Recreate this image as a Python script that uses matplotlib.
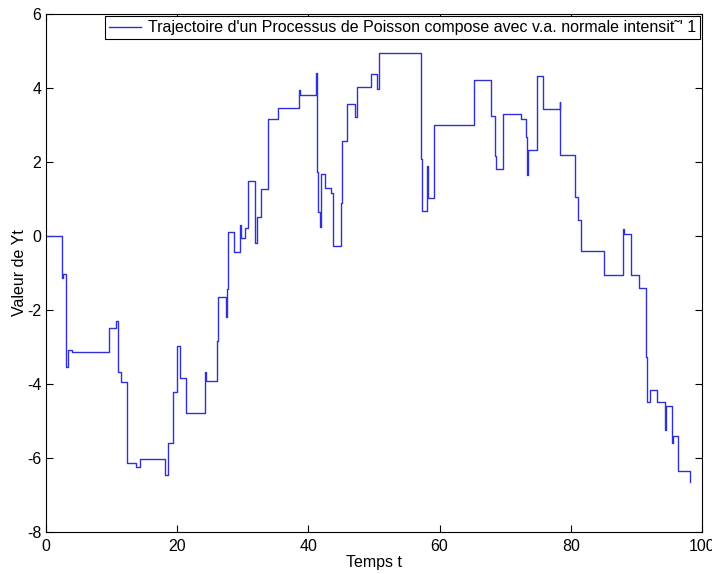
import matplotlib
matplotlib.use("Agg")
import matplotlib.pyplot as plt

plt.rcParams["font.family"] = ["Liberation Sans", "DejaVu Sans"]
plt.rcParams["axes.unicode_minus"] = False

# jump times and the value held from each jump until the next one
jump_times = [
    0.0, 2.5, 2.65, 3.05, 3.4, 4.0, 9.6, 10.6, 11.0, 11.4, 12.3, 13.7, 14.3,
    18.2, 18.6, 19.4, 19.9, 20.5, 21.3, 24.3, 24.4, 26.1, 26.2, 27.5, 27.55,
    27.8, 28.6, 28.7, 29.6, 29.7, 30.4, 30.8, 31.8, 32.2, 32.7, 33.8, 35.4,
    38.6, 38.7, 41.2, 41.3, 41.5, 41.8, 41.9, 42.5, 43.5, 43.8, 44.9, 45.1,
    45.9, 47.1, 47.4, 49.6, 50.4, 50.8, 57.2, 57.25, 57.35, 58.1, 58.3, 59.1,
    65.2, 65.3, 67.8, 68.4, 68.5, 68.6, 69.6, 72.4, 73.1, 73.3, 73.4, 74.9,
    75.7, 78.3, 78.4, 80.6, 81.1, 81.5, 85.0, 88.0, 88.1, 89.2, 90.4, 91.5,
    91.6, 92.1, 93.1, 94.4, 94.5, 95.4, 95.5, 96.4, 98.2,
]
jump_values = [
    0.0, -1.13, -1.04, -3.53, -3.08, -3.14, -2.5, -2.31, -3.68, -3.95, -6.13,
    -6.25, -6.03, -6.46, -5.6, -4.23, -2.96, -3.83, -4.78, -3.67, -3.91,
    -2.84, -1.66, -2.18, -1.44, 0.1, -0.06, -0.44, 0.3, -0.06, 0.21, 1.49,
    -0.2, 0.52, 1.26, 3.16, 3.47, 3.95, 3.81, 4.41, 1.72, 0.64, 0.25, 1.67,
    1.29, 1.15, -0.27, 0.88, 2.58, 3.56, 3.22, 4.02, 4.37, 3.96, 4.95, 2.07,
    1.22, 0.68, 1.89, 1.02, 3.0, 3.45, 4.21, 3.24, 2.68, 2.16, 1.81, 3.29,
    3.15, 2.68, 1.65, 2.32, 4.32, 3.43, 3.62, 2.19, 1.06, 0.43, -0.4, -1.05,
    0.18, 0.06, -1.05, -1.41, -3.26, -4.5, -4.16, -4.5, -5.24, -4.6, -5.59,
    -5.41, -6.35, -6.64,
]

legend_label = "Trajectoire d'un Processus de Poisson compose avec v.a. normale intensit\u02dc' 1"

fig = plt.figure(figsize=(7.12, 5.74), dpi=100)
ax = fig.add_axes([0.0646, 0.0732, 0.9214, 0.9024])

ax.step(jump_times, jump_values, where="post", color="#3030d8", linewidth=1.0,
        label=legend_label)

ax.set_xlim(0, 100)
ax.set_ylim(-8, 6)
ax.set_xticks([0, 20, 40, 60, 80, 100])
ax.set_yticks([-8, -6, -4, -2, 0, 2, 4, 6])
ax.tick_params(direction="in", top=True, right=True, labelsize=11.5, length=5)
ax.tick_params(axis="x", pad=5)
for s in ax.spines.values():
    s.set_linewidth(0.8)

ax.set_xlabel("Temps t", fontsize=11.5, labelpad=1)
ax.set_ylabel("Valeur de Yt", fontsize=11.5, labelpad=0)

leg = ax.legend(loc="upper right", fontsize=11.5, fancybox=False, framealpha=1,
                edgecolor="black", borderpad=0.25, handlelength=2.0,
                handletextpad=0.4, borderaxespad=0.15)
leg.get_frame().set_linewidth(0.8)

fig.savefig("out.png", dpi=100)
